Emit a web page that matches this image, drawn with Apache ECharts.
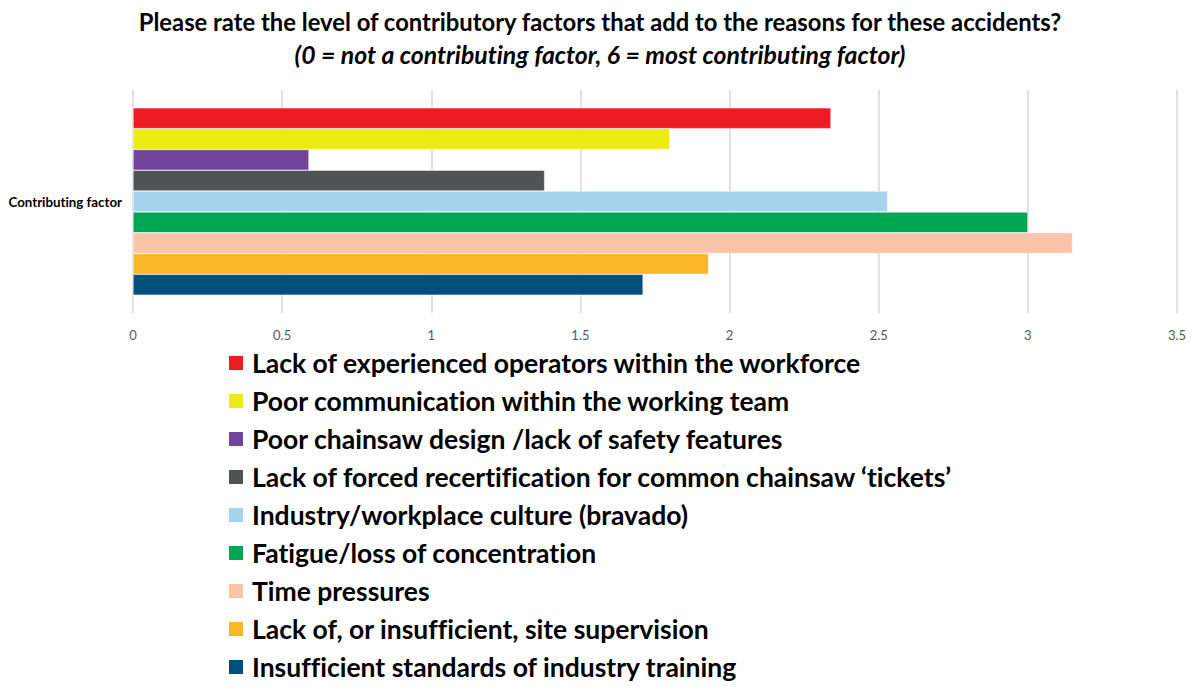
<!DOCTYPE html>
<html><head><meta charset="utf-8">
<script src="https://cdn.jsdelivr.net/npm/echarts@6/dist/echarts.min.js"></script>
<style>html,body{margin:0;padding:0;background:#fff}#c{width:1200px;height:687px}
#c text{font-variant-ligatures:none;font-feature-settings:"liga" 0,"clig" 0}</style>
</head><body><div id="c"></div>
<script>
const categories = ['Contributing factor'];
const seriesNames = [
  'Lack of experienced operators within the workforce',
  'Poor communication within the working team',
  'Poor chainsaw design /lack of safety features',
  'Lack of forced recertification for common chainsaw \u2018tickets\u2019',
  'Industry/workplace culture (bravado)',
  'Fatigue/loss of concentration',
  'Time pressures',
  'Lack of, or insufficient, site supervision',
  'Insufficient standards of industry training'
];
const seriesValues = [2.34, 1.80, 0.59, 1.38, 2.53, 3.00, 3.15, 1.93, 1.71];
const seriesColors = ['#ED1C24','#ECE913','#71449A','#505354','#A5D3EE','#00A651','#F9C4A8','#FBB625','#004F7A'];
const xTicks = [0, 0.5, 1, 1.5, 2, 2.5, 3, 3.5];

const FONT = 'Lato';
const chart = echarts.init(document.getElementById('c'), null, {renderer: 'svg'});
chart.setOption({
  animation: false,
  backgroundColor: '#fff',
  title: [
    {text: 'Please rate the level of contributory factors that add to the reasons for these accidents?',
     left: 'center', top: 5, textStyle: {fontFamily: FONT, fontWeight: 'bold', fontSize: 23.8, color: '#000'}},
    {text: '(0 = not a contributing factor, 6 = most contributing factor)',
     left: 'center', top: 37, textStyle: {fontFamily: FONT, fontWeight: 'bold', fontStyle: 'italic', fontSize: 24.8, color: '#000'}}
  ],
  grid: {left: 133, right: 23, top: 90, bottom: 374},
  xAxis: {
    type: 'value', min: xTicks[0], max: xTicks[xTicks.length-1], interval: 0.5,
    axisLine: {show: false}, axisTick: {show: false},
    axisLabel: {color: '#595959', fontFamily: FONT, fontSize: 13, margin: 15},
    splitLine: {lineStyle: {color: '#D9D9D9', width: 1.5}}
  },
  yAxis: {
    type: 'category', data: categories, inverse: true,
    axisLine: {show: false}, axisTick: {show: false},
    axisLabel: {color: '#000', fontFamily: FONT, fontWeight: 'bold', fontSize: 13.3, margin: 11}
  },
  legend: {
    orient: 'vertical', left: 227, top: 347, height: 340, padding: 0,
    itemWidth: 16, itemHeight: 16, itemGap: 6, icon: 'rect',
    data: seriesNames,
    textStyle: {fontFamily: FONT, fontWeight: 'bold', fontSize: 26.5, color: '#000', lineHeight: 32, padding: [0,0,0,3]}
  },
  series: seriesNames.map((n, i) => ({
    name: n, type: 'bar', data: [seriesValues[i]],
    barGap: '0%', barCategoryGap: '16%',
    itemStyle: {color: seriesColors[i], borderColor: '#fff', borderWidth: 0.5}
  }))
});
</script></body></html>
